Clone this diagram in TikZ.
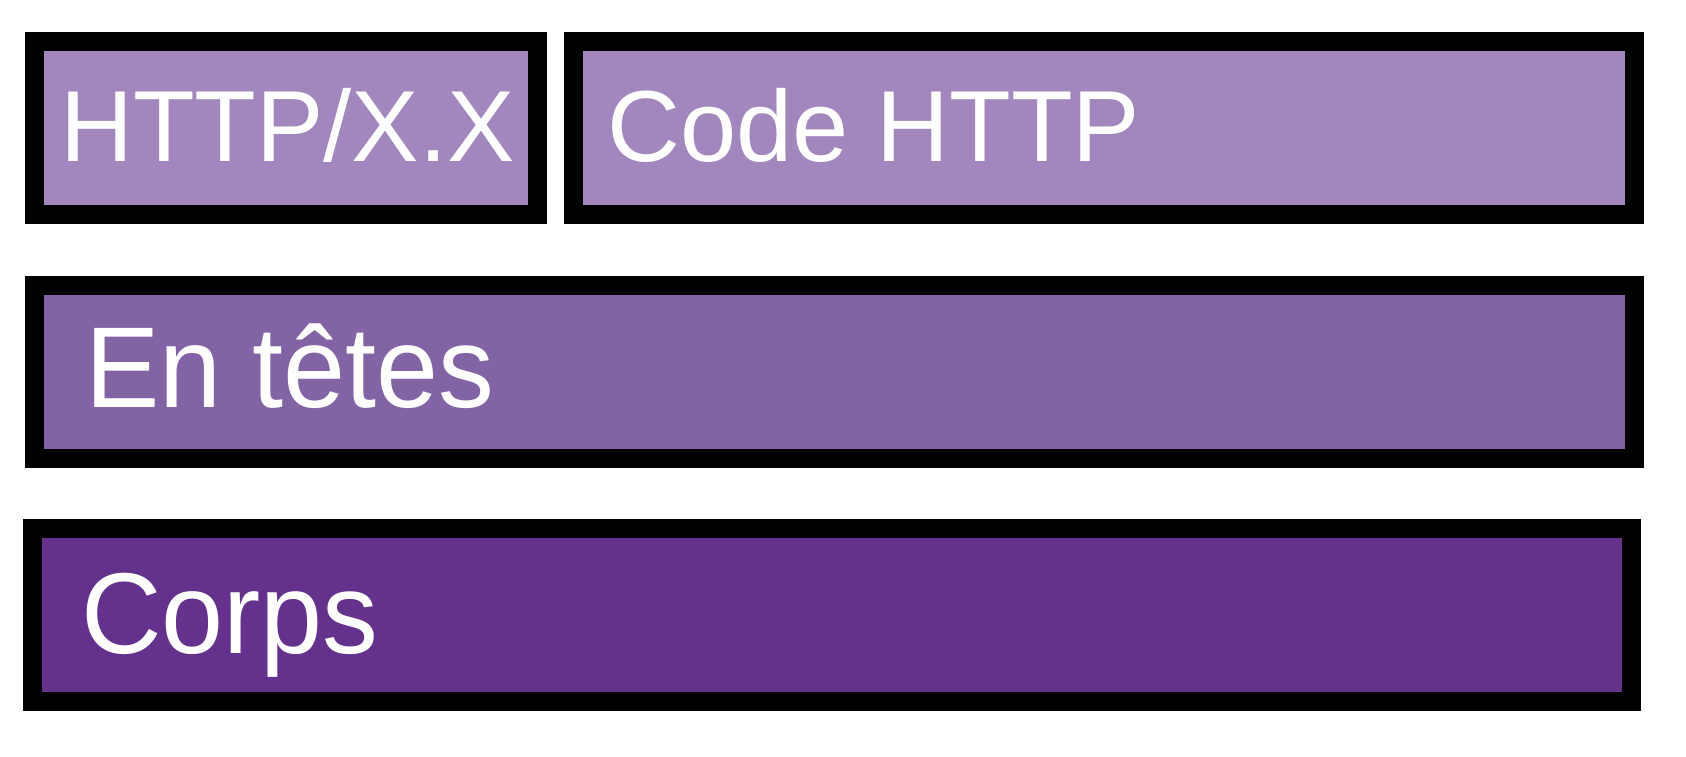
\documentclass[tikz,border=0pt]{standalone}
\usepackage{fontspec}
\setmainfont{Liberation Sans}
\definecolor{lightpurple}{RGB}{161,135,189}
\definecolor{midpurple}{RGB}{130,100,165}
\definecolor{darkpurple}{RGB}{100,49,140}
\tikzset{
  layerbox/.style={draw=black, line width=19pt, rectangle, inner sep=0pt, outer sep=0pt},
  smalllabel/.style={anchor=base west, inner sep=0pt, text=white, font=\fontsize{101}{120}\selectfont},
  biglabel/.style={anchor=base west, inner sep=0pt, text=white, font=\fontsize{115}{138}\selectfont, xscale=0.97, transform shape}
}
\begin{document}
\begin{tikzpicture}[x=1pt,y=-1pt]
\useasboundingbox (0,0) rectangle (1686,756);
% boxes (outer edges given, stroke centred 9.5 inside)
\node[layerbox, fill=lightpurple, minimum width=503pt, minimum height=173pt] (version) at (286,128) {};
\node[layerbox, fill=lightpurple, minimum width=1061pt, minimum height=173pt] (code) at (1104,128) {};
\node[layerbox, fill=midpurple, minimum width=1600pt, minimum height=173pt] (headers) at (834.5,372) {};
\node[layerbox, fill=darkpurple, minimum width=1599pt, minimum height=173pt] (body) at (832,615) {};
% labels
\node[smalllabel] (versiontext) at (60,161) {HTTP/X.X};
\node[smalllabel] (codetext) at (607,161) {Code HTTP};
\node[biglabel] (headerstext) at (85,407) {En têtes};
\node[biglabel] (bodytext) at (81,653) {Corps};
\end{tikzpicture}
\end{document}
